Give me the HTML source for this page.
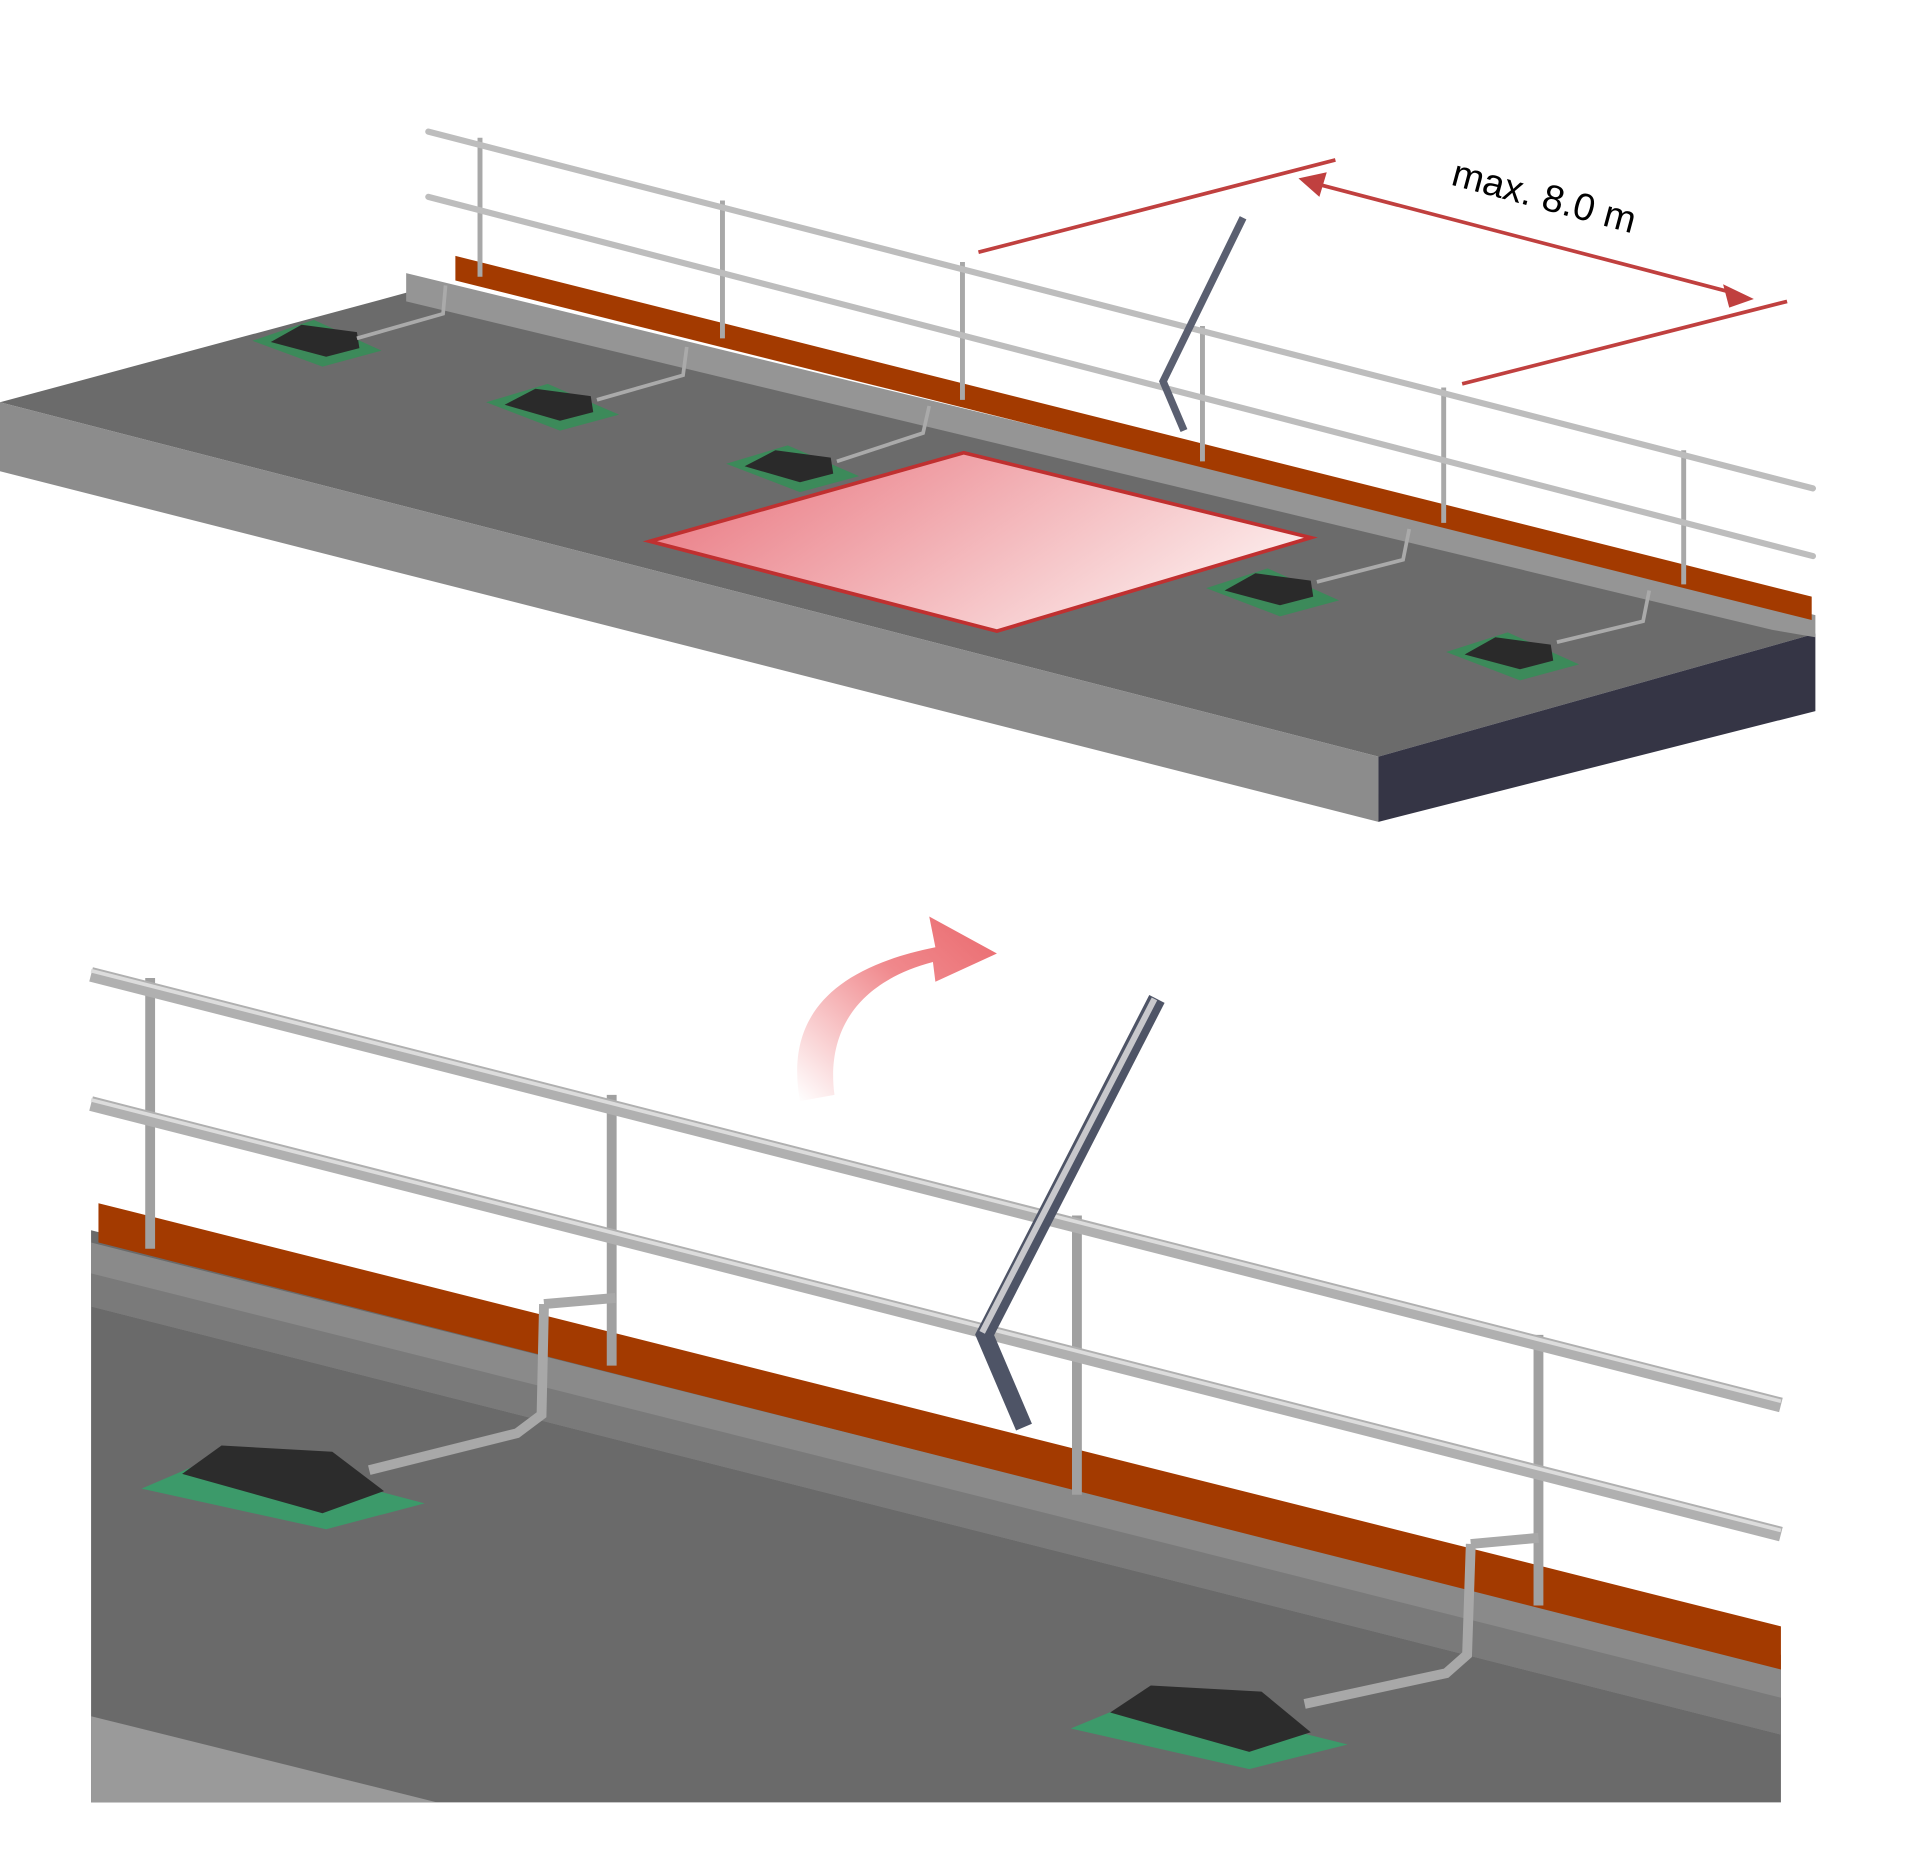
<!DOCTYPE html>
<html><head><meta charset="utf-8"><style>html,body{margin:0;padding:0;background:#fff}svg{display:block}</style></head>
<body>
<svg width="1920" height="1854" viewBox="0 0 1560 1507" preserveAspectRatio="none" xmlns="http://www.w3.org/2000/svg">
<defs>
<linearGradient id="pk" x1="0" y1="0" x2="1" y2="0.4"><stop offset="0" stop-color="#e8707a"/><stop offset="1" stop-color="#fbe6e6"/></linearGradient>
<linearGradient id="ar" x1="0" y1="1" x2="1" y2="0"><stop offset="0" stop-color="#fff"/><stop offset="0.6" stop-color="#f0888c"/><stop offset="1" stop-color="#ea6a6e"/></linearGradient>
</defs>
<rect width="1560" height="1507" fill="#fff"/>
<!-- TOP SLAB -->
<polygon points="0,327 330,238 1475,515 1120,615" fill="#6b6b6b"/>
<polygon points="0,327 1120,615 1120,668 0,383" fill="#8c8c8c"/>
<polygon points="1120,615 1475,515 1475,578 1120,668" fill="#353545"/>
<polygon points="330,222 1475,500 1475,518 1440,512 330,245" fill="#959595"/>
<polygon points="370,208 1472,485 1472,504 370,228" fill="#a33a00"/>
<!-- posts -->
<g stroke="#a8a8a8" stroke-width="4">
<line x1="390" y1="112" x2="390" y2="225"/><line x1="587" y1="163" x2="587" y2="275"/>
<line x1="782" y1="213" x2="782" y2="325"/><line x1="977" y1="265" x2="977" y2="375"/>
<line x1="1173" y1="315" x2="1173" y2="425"/><line x1="1368" y1="366" x2="1368" y2="475"/>
</g>
<g stroke="#bdbdbd" stroke-width="5" stroke-linecap="round">
<line x1="348" y1="107" x2="1473" y2="397"/><line x1="348" y1="160" x2="1473" y2="452"/>
</g>
<!-- top lever -->
<polyline points="1010,177 945,310 962,350" fill="none" stroke="#5a5f70" stroke-width="6"/>
<!-- anchors -->
<g>
<polygon points="205,277 255,260 310,285 262,298" fill="#3c8a5a"/><polygon points="220,278 245,264 290,270 292,283 265,290" fill="#2a2a2a"/>
<polygon points="395,327 445,312 503,337 455,350" fill="#3c8a5a"/><polygon points="410,329 435,316 480,322 482,335 455,342" fill="#2a2a2a"/>
<polygon points="590,377 640,362 698,387 650,400" fill="#3c8a5a"/><polygon points="605,379 630,366 675,372 677,385 650,392" fill="#2a2a2a"/>
<polygon points="980,478 1030,462 1088,488 1040,501" fill="#3c8a5a"/><polygon points="995,480 1020,466 1065,472 1067,485 1040,492" fill="#2a2a2a"/>
<polygon points="1175,530 1225,514 1283,540 1235,553" fill="#3c8a5a"/><polygon points="1190,532 1215,518 1260,524 1262,537 1235,544" fill="#2a2a2a"/>
</g>
<g stroke="#aaa" stroke-width="3" fill="none">
<polyline points="290,275 360,255 362,232"/><polyline points="485,325 555,305 558,282"/><polyline points="680,375 750,352 755,330"/>
<polyline points="1070,473 1140,455 1145,430"/><polyline points="1265,522 1335,505 1340,480"/>
</g>
<!-- red square -->
<polygon points="528,440 783,368 1065,437 810,513" fill="url(#pk)" stroke="#c03030" stroke-width="3"/>
<!-- dimension -->
<g stroke="#c0403f" stroke-width="3">
<line x1="795" y1="205" x2="1085" y2="130"/><line x1="1188" y1="312" x2="1452" y2="245"/>
<line x1="1068" y1="149" x2="1412" y2="239"/>
</g>
<polygon points="1055,145 1078,140 1072,160" fill="#c0403f"/>
<polygon points="1425,243 1400,231 1405,250" fill="#c0403f"/>
<text x="1178" y="150" font-family="Liberation Sans, sans-serif" font-size="31" fill="#000" transform="rotate(15 1178 150)">max. 8.0 m</text>
<!-- BOTTOM PANEL -->
<polygon points="74,1000 1447,1345 1447,1465 74,1465" fill="#6a6a6a"/>
<polygon points="74,1395 355,1465 74,1465" fill="#9a9a9a"/>
<polygon points="74,1010 1447,1355 1447,1410 74,1062" fill="#8e8e8e" opacity="0.9"/>
<polygon points="74,1035 1447,1380 1447,1410 74,1062" fill="#7a7a7a"/>
<polygon points="80,978 1447,1322 1447,1357 80,1010" fill="#a33a00"/>
<!-- bottom posts -->
<g stroke="#a0a0a0" stroke-width="8">
<line x1="122" y1="795" x2="122" y2="1015"/><line x1="497" y1="890" x2="497" y2="1110"/>
<line x1="875" y1="988" x2="875" y2="1215"/><line x1="1250" y1="1085" x2="1250" y2="1305"/>
</g>
<g stroke="#b0b0b0" stroke-width="12" stroke-linecap="butt">
<line x1="74" y1="792" x2="1447" y2="1142"/><line x1="74" y1="897" x2="1447" y2="1247"/>
</g>
<g stroke="#dcdcdc" stroke-width="3">
<line x1="74" y1="789" x2="1447" y2="1139"/><line x1="74" y1="894" x2="1447" y2="1244"/>
</g>
<!-- brackets -->
<g stroke="#a8a8a8" stroke-width="8" fill="none">
<polyline points="442,1060 440,1150 420,1165 300,1195"/><polyline points="1195,1255 1192,1345 1175,1360 1060,1385"/>
<polyline points="442,1060 500,1055"/><polyline points="1195,1255 1250,1250"/>
</g>
<!-- bottom anchors -->
<polygon points="115,1210 185,1180 345,1222 265,1243" fill="#3c9a6a"/>
<polygon points="148,1198 180,1175 270,1180 312,1212 262,1230" fill="#2c2c2c"/>
<polygon points="870,1405 935,1378 1095,1418 1015,1438" fill="#3c9a6a"/>
<polygon points="902,1392 935,1370 1025,1375 1065,1408 1015,1424" fill="#2c2c2c"/>
<!-- lever -->
<polyline points="940,812 800,1085 832,1160" fill="none" stroke="#4e5466" stroke-width="14"/>
<polyline points="938,812 798,1083" fill="none" stroke="#c8c8cc" stroke-width="5"/>
<!-- curved arrow -->
<path d="M650,895 C640,840 660,790 760,770 L755,745 L810,775 L760,798 L758,782 C690,800 672,845 678,890 Z" fill="url(#ar)"/>
</svg>
</body></html>
